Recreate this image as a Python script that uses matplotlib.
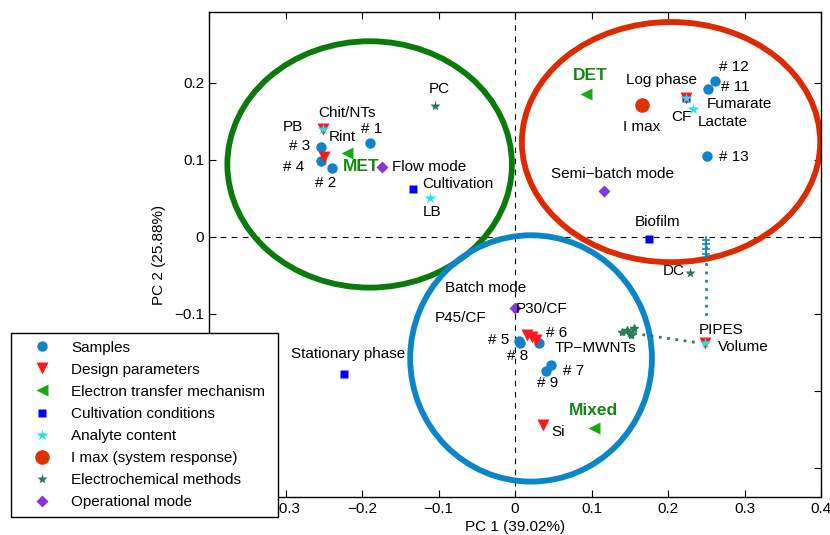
import numpy as np
import matplotlib.pyplot as plt
from matplotlib.patches import Ellipse

plt.rcParams['font.family'] = ['Liberation Sans', 'DejaVu Sans']
plt.rcParams['font.size'] = 11

# scores on PC1 / PC2
samples_x = [-0.190, -0.239, -0.254, -0.254, 0.005, 0.031, 0.047, 0.007, 0.041, 0.252, 0.261, 0.251]
samples_y = [0.122, 0.090, 0.117, 0.099, -0.136, -0.138, -0.167, -0.138, -0.174, 0.192, 0.203, 0.105]

design_x = [-0.251, -0.250, 0.223, 0.016, 0.022, 0.027, 0.037, 0.248]
design_y = [0.140, 0.104, 0.180, -0.127, -0.130, -0.134, -0.244, -0.138]

etm_x = [-0.220, 0.093, 0.103]
etm_y = [0.109, 0.186, -0.248]

cult_x = [-0.133, 0.175, -0.223, 0.223]
cult_y = [0.062, -0.003, -0.178, 0.180]

analyte_x = [-0.111, -0.251, 0.223, 0.233, 0.248]
analyte_y = [0.051, 0.140, 0.180, 0.166, -0.138]

imax_x = [0.166]
imax_y = [0.171]

echem_x = [-0.105, 0.229, 0.150]
echem_y = [0.170, -0.047, -0.125]

opmode_x = [-0.174, 0.116, 0.000]
opmode_y = [0.091, 0.060, -0.092]

# dotted trails near PIPES / Volume
trail_blue_x = [0.250, 0.250]
trail_blue_y = [-0.012, -0.110]
trail_green_x = [0.145, 0.242]
trail_green_y = [-0.124, -0.138]

labels = ['Chit/NTs', 'PB', 'Rint', '# 1', '# 3', '# 4', '# 2', 'Flow mode', 'Cultivation',
          'LB', 'PC', 'Log phase', '# 12', '# 11', 'Fumarate', 'Lactate', 'CF', 'I max',
          '# 13', 'Semi\u2212batch mode', 'Biofilm', 'DC', 'PIPES', 'Volume', 'Batch mode',
          'P30/CF', 'P45/CF', '# 5', '# 8', '# 6', 'TP\u2212MWNTs', '# 7', '# 9', 'Si',
          'Stationary phase']
label_x = [-0.220, -0.290, -0.226, -0.187, -0.282, -0.290, -0.247, -0.112, -0.075,
           -0.108, -0.099, 0.191, 0.286, 0.288, 0.293, 0.271, 0.217, 0.166,
           0.286, 0.127, 0.186, 0.208, 0.270, 0.299, -0.038,
           0.035, -0.071, -0.021, 0.003, 0.054, 0.105, 0.076, 0.042, 0.056,
           -0.218]
label_y = [0.161, 0.143, 0.130, 0.140, 0.118, 0.091, 0.070, 0.091, 0.069,
           0.032, 0.192, 0.204, 0.220, 0.195, 0.172, 0.149, 0.156, 0.143,
           0.104, 0.081, 0.019, -0.045, -0.121, -0.143, -0.066,
           -0.094, -0.105, -0.134, -0.155, -0.125, -0.145, -0.174, -0.190, -0.253,
           -0.152]

groups = ['MET', 'DET', 'Mixed']
group_x = [-0.201, 0.098, 0.103]
group_y = [0.091, 0.209, -0.225]

# cluster ellipses: centre x, centre y, width, height
ell_cx = [-0.190, 0.204, 0.021]
ell_cy = [0.094, 0.123, -0.158]
ell_w = [0.372, 0.390, 0.316]
ell_h = [0.320, 0.312, 0.320]
ell_col = ['#0a7a0a', '#dd2a00', '#0a86c8']

fig = plt.figure(figsize=(8.3, 5.35), dpi=100)
ax = fig.add_axes([209 / 830, 38 / 535, 612 / 830, 485 / 535])

ax.axvline(0, color='k', ls=(0, (5, 5)), lw=0.8, zorder=1)
ax.axhline(0, color='k', ls=(0, (5, 5)), lw=0.8, zorder=1)

for cx, cy, w, h, c in zip(ell_cx, ell_cy, ell_w, ell_h, ell_col):
    ax.add_patch(Ellipse((cx, cy), w, h, fill=False, ec=c, lw=4.2, zorder=2))

ax.plot(trail_blue_x, trail_blue_y, ls=(0, (1, 2)), color='#1184c9', lw=2, zorder=3)
ax.plot(trail_green_x, trail_green_y, ls=(0, (1, 2)), color='#2b7b5a', lw=2, zorder=3)
ax.plot([0.250] * 4, [-0.004, -0.010, -0.016, -0.022], '+', color='#1184c9', ms=6, mew=1.2, zorder=3)
ax.plot([0.140, 0.146, 0.152, 0.156], [-0.124, -0.121, -0.127, -0.118], '*', color='#2b7b5a', ms=6, zorder=3)

ax.plot(samples_x, samples_y, 'o', color='#1184c9', ms=7.5, mec='none', label='Samples', zorder=4)
ax.plot(design_x, design_y, 'v', color='#ff1a1a', ms=8, mec='none', label='Design parameters', zorder=4)
ax.plot(etm_x, etm_y, '<', color='#11aa11', ms=8, mec='none', label='Electron transfer mechanism', zorder=4)
ax.plot(cult_x, cult_y, 's', color='#0000ff', ms=6, mec='none', label='Cultivation conditions', zorder=3.5)
ax.plot(analyte_x, analyte_y, '*', color='#22e0e8', ms=9, mec='none', label='Analyte content', zorder=5)
ax.plot(imax_x, imax_y, 'o', color='#dd3300', ms=10.5, mec='none', label='I max (system response)', zorder=4)
ax.plot(echem_x, echem_y, '*', color='#2b7b5a', ms=8, mec='none', label='Electrochemical methods', zorder=4)
ax.plot(opmode_x, opmode_y, 'D', color='#8833dd', ms=6, mec='none', label='Operational mode', zorder=4)

for t, x, y in zip(labels, label_x, label_y):
    ax.text(x, y, t, ha='center', va='center', fontsize=11, zorder=6)
for t, x, y in zip(groups, group_x, group_y):
    ax.text(x, y, t, ha='center', va='center', fontsize=12.5, fontweight='bold',
            color='#118811', zorder=6)

ax.set_xlim(-0.4, 0.4)
ax.set_ylim(-0.338, 0.292)
# labels hidden behind the legend in the original are left blank
xt = [-0.4, -0.3, -0.2, -0.1, 0, 0.1, 0.2, 0.3, 0.4]
ax.set_xticks(xt)
ax.set_xticklabels(['', '\u22120.3', '\u22120.2', '\u22120.1', '0', '0.1', '0.2', '0.3', '0.4'])
yt = [-0.3, -0.2, -0.1, 0, 0.1, 0.2]
ax.set_yticks(yt)
ax.set_yticklabels(['', '', '\u22120.1', '0', '0.1', '0.2'])
ax.tick_params(direction='in', top=True, right=True, length=5, width=0.8, labelsize=11)
for s in ax.spines.values():
    s.set_linewidth(1.0)
ax.set_xlabel('PC 1 (39.02%)', fontsize=11, labelpad=3)
ax.set_ylabel('PC 2 (25.88%)', fontsize=11, labelpad=6)

leg = ax.legend(loc='upper left', bbox_to_anchor=(11 / 830, 21 / 535, 267 / 830, 181 / 535),
                bbox_transform=fig.transFigure, mode='expand', fancybox=False, edgecolor='k',
                framealpha=1, fontsize=11, borderpad=0.5, labelspacing=0.53,
                handletextpad=0.45, handlelength=3.0, borderaxespad=0)
leg.get_frame().set_linewidth(1.0)
leg.set_zorder(10)

fig.savefig('out.png', dpi=100)
